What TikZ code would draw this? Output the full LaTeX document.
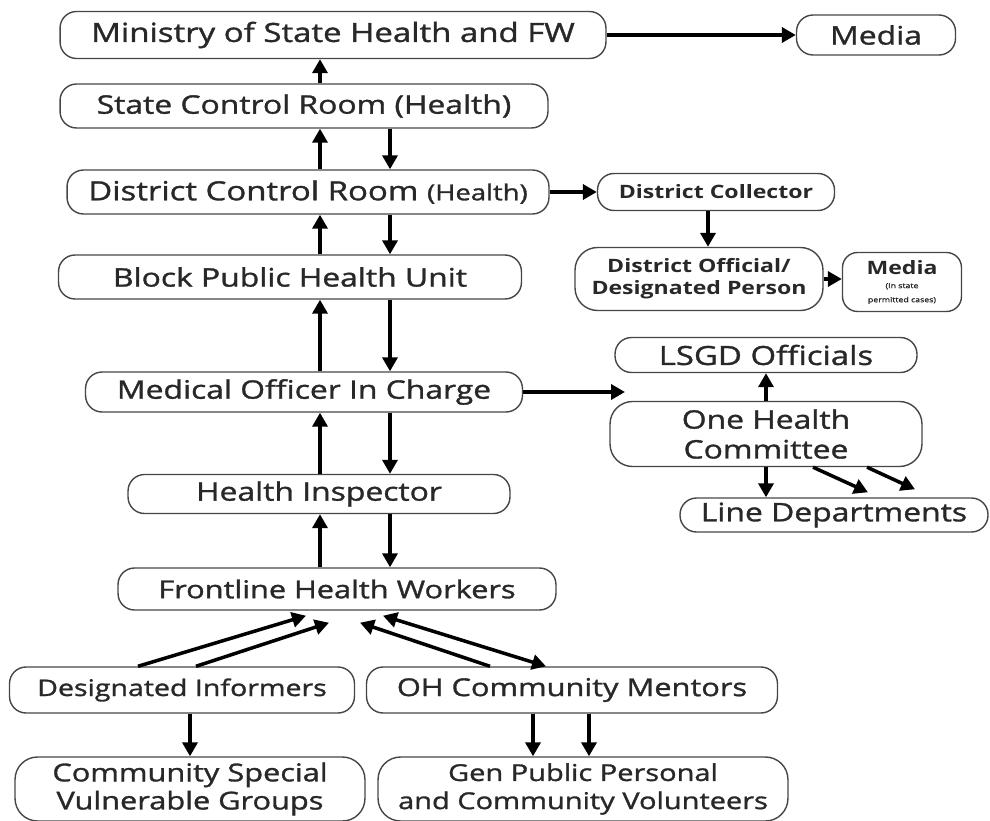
\documentclass[tikz,border=0pt]{standalone}
\usepackage{fontspec}
\setmainfont{Open Sans}[FakeStretch=1.25, UprightFeatures={FakeBold=1.3}]
\usetikzlibrary{arrows.meta,calc}
\definecolor{inkcol}{RGB}{40,40,40}
\definecolor{edgecol}{RGB}{70,70,70}

\begin{document}
\begin{tikzpicture}[x=0.02cm, y=-0.02cm,
    every node/.style={font=\fontsize{14.5}{17}\selectfont, text=inkcol},
    pill/.style={draw=edgecol, line width=0.8pt, rounded corners=0.33cm, align=center, inner sep=1pt},
    tall/.style={pill, rounded corners=0.45cm},
    smallbold/.style={font=\fontsize{10.5}{12.5}\selectfont\bfseries},
    arr/.style={-{Triangle[length=0.28cm,width=0.3cm]}, line width=2pt, black},
    darr/.style={{Triangle[length=0.28cm,width=0.3cm]}-{Triangle[length=0.28cm,width=0.3cm]}, line width=2pt, black}]
  \useasboundingbox (0,0) rectangle (990,821);
  % main chain
  \node[pill, minimum width=10.92cm, minimum height=0.94cm, font=\fontsize{15}{17}\selectfont] (ministry) at (333,35) {Ministry of State Health and FW};
  \node[pill, minimum width=3.18cm, minimum height=0.8cm] (media) at (876,35) {Media};
  \node[pill, minimum width=9.76cm, minimum height=0.88cm] (state) at (304,106) {State Control Room (Health)};
  \node[pill, minimum width=9.64cm, minimum height=0.88cm, font=\fontsize{15}{17}\selectfont] (district) at (308,192) {District Control Room {\fontsize{12.5}{14}\selectfont(Health)}};
  \node[pill, smallbold, minimum width=4.74cm, minimum height=0.74cm] (collector) at (716,192) {District Collector};
  \node[tall, smallbold, minimum width=4.96cm, minimum height=1.26cm] (official) at (699,279) {District Official/\\Designated Person};
  \node[tall, minimum width=2.38cm, minimum height=1.18cm, rounded corners=0.3cm, font=\fontsize{10.5}{11}\selectfont\bfseries] (mediab) at (902,282) {Media\\[-3pt]{\fontsize{4}{4.5}\selectfont\mdseries (In state}\\[-3pt]{\fontsize{4}{4.5}\selectfont\mdseries permitted cases)}};
  \node[pill, minimum width=9.26cm, minimum height=0.88cm] (block) at (290,277) {Block Public Health Unit};
  \node[pill, minimum width=8.74cm, minimum height=0.8cm] (moic) at (304,392) {Medical Officer In Charge};
  \node[pill, minimum width=6.04cm, minimum height=0.7cm, font=\fontsize{15}{17}\selectfont] (lsgd) at (766,355) {LSGD Officials};
  \node[tall, minimum width=6.24cm, minimum height=1.3cm] (ohc) at (766,434) {One Health\\Committee};
  \node[pill, minimum width=6.16cm, minimum height=0.68cm] (linedep) at (834,515) {Line Departments};
  \node[pill, minimum width=7.64cm, minimum height=0.78cm] (hi) at (319,494) {Health Inspector};
  \node[pill, minimum width=8.76cm, minimum height=0.84cm, font=\fontsize{14}{16}\selectfont] (fhw) at (337,589) {Frontline Health Workers};
  % community level
  \node[pill, minimum width=6.9cm, minimum height=0.92cm, font=\fontsize{13}{15}\selectfont] (informers) at (182,690) {Designated Informers};
  \node[pill, minimum width=8.22cm, minimum height=0.92cm, font=\fontsize{14}{16}\selectfont] (mentors) at (572,690) {OH Community Mentors};
  \node[tall, minimum width=7.0cm, minimum height=1.28cm, font=\fontsize{14}{16}\selectfont] (vulnerable) at (190,789) {Community Special\\Vulnerable Groups};
  \node[tall, minimum width=8.2cm, minimum height=1.28cm, font=\fontsize{13.2}{16}\selectfont] (volunteers) at (583,789) {Gen Public Personal\\and Community Volunteers};

  \coordinate (up) at (320,0);
  \coordinate (dn) at (390,0);
  \coordinate (moend) at (625,392);

  \draw[arr] (up |- state.north) -- (up |- ministry.south);
  \draw[arr] (ministry.east) -- (media.west);
  \foreach \boxlo/\boxhi in {district/state, block/district, moic/block, hi/moic, fhw/hi} {
    \draw[arr] (up |- \boxlo.north) -- (up |- \boxhi.south);
    \draw[arr] (dn |- \boxhi.south) -- (dn |- \boxlo.north);
  }
  \draw[arr] (district.east) -- (collector.west);
  \draw[arr] ([xshift=-0.16cm]collector.south) -- ([xshift=-0.16cm]collector.south |- official.north);
  \draw[arr] (official.east) -- (official.east -| mediab.west);
  \draw[arr] (moic.east) -- (moend);
  \draw[arr] (ohc.north) -- (lsgd.south);
  \draw[arr] (ohc.south) -- (ohc.south |- linedep.north);
  \draw[arr] ($(ohc.south)+(47,0)$) -- ($(linedep.north)+(34,-5)$);
  \draw[arr] ($(ohc.south)+(101,0)$) -- ($(linedep.north)+(81,-8)$);
  % towards frontline workers
  \draw[arr] ($(informers.north)+(-44,0)$) -- ($(fhw.south)+(-31,5)$);
  \draw[arr] ($(informers.north)+(14,0)$) -- ($(fhw.south)+(-8,12)$);
  \draw[arr] ($(mentors.north)+(-82,0)$) -- ($(fhw.south)+(23,12)$);
  \draw[darr] ($(mentors.north)+(-26,0)$) -- ($(fhw.south)+(46,5)$);
  \draw[arr] (vulnerable.north |- informers.south) -- (vulnerable.north);
  \draw[arr] (533,0 |- mentors.south) -- (533,0 |- volunteers.north);
  \draw[arr] (589,0 |- mentors.south) -- (589,0 |- volunteers.north);
\end{tikzpicture}
\end{document}
